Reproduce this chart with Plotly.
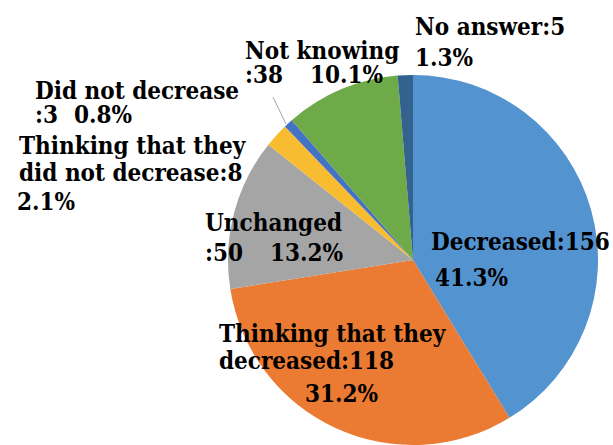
import plotly.graph_objects as go

# ---- data ----
categories = ["Decreased", "Thinking that they decreased", "Unchanged",
              "Thinking that they did not decrease", "Did not decrease",
              "Not knowing", "No answer"]
counts = [156, 118, 50, 8, 3, 38, 5]
colors = ["#5393D0", "#EB7A32", "#A5A5A5", "#F7BC30", "#4472C4", "#6EAB48", "#33628F"]

# label text pieces (text, left x px, center y px)
label_lines = [
    ("No answer:5", 413, 27),
    ("1.3%", 413, 57),
    ("Not knowing", 243, 50),
    (":38", 243, 75),
    ("10.1%", 308, 75),
    ("Did not decrease", 33, 90),
    (":3", 33, 115),
    ("0.8%", 72, 115),
    ("Thinking that they", 17, 145),
    ("did not decrease:8", 17, 172),
    ("2.1%", 15, 202),
    ("Unchanged", 203, 222),
    (":50", 203, 252),
    ("13.2%", 268, 252),
    ("Decreased:156", 429, 242),
    ("41.3%", 433, 277),
    ("Thinking that they", 217, 333),
    ("decreased:118", 217, 360),
    ("31.2%", 303, 393),
]

W, H = 613, 445
FONT = "DejaVu Serif Condensed, DejaVu Serif, serif"


def px(x):
    return x / W


def py(y):
    return 1 - y / H


fig = go.Figure(go.Pie(
    labels=categories, values=counts, sort=False, direction="clockwise", rotation=0,
    marker=dict(colors=colors, line=dict(width=0)), textinfo="none",
    hoverinfo="label+value+percent",
    domain=dict(x=[0.3475, 1.0], y=[0.0, 0.8315]), showlegend=False,
))

annotations = []
for text, x, y in label_lines:
    annotations.append(dict(
        text=text, x=px(x), y=py(y), xref="paper", yref="paper",
        xanchor="left", yanchor="middle", showarrow=False,
        font=dict(family=FONT, size=24, color="#000000", weight="bold"),
    ))

fig.update_layout(
    width=W, height=H, margin=dict(l=0, r=0, t=0, b=0),
    paper_bgcolor="white", plot_bgcolor="white",
    annotations=annotations,
    shapes=[dict(type="line", xref="paper", yref="paper",
                 x0=px(273), y0=py(97), x1=px(286), y1=py(124),
                 line=dict(color="#A6A6A6", width=1))],
)

fig.write_html("out.html", config={"displayModeBar": False},
               post_script="document.body.style.margin='0';document.body.style.padding='0';")
